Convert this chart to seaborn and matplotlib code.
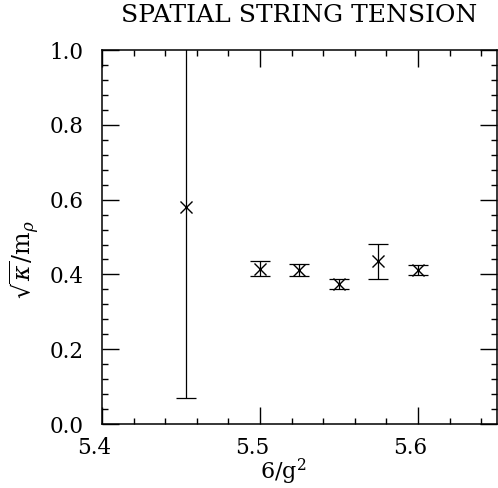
import matplotlib
matplotlib.use("Agg")
import matplotlib.pyplot as plt
import matplotlib.transforms as mtransforms
from matplotlib.ticker import MultipleLocator
import seaborn as sns
import pandas as pd

# Lattice coupling and spatial string tension ratio
beta = [5.453, 5.500, 5.525, 5.550, 5.575, 5.600]
ratio = [0.58, 0.415, 0.412, 0.375, 0.435, 0.412]
err = [0.51, 0.020, 0.016, 0.014, 0.046, 0.013]

df = pd.DataFrame({"beta": beta, "ratio": ratio, "err": err})

sns.set_theme(style="white")
plt.rcParams["font.family"] = ["DejaVu Serif"]
plt.rcParams["mathtext.fontset"] = "dejavuserif"
plt.rcParams["text.color"] = "black"
plt.rcParams["axes.labelcolor"] = "black"

fig = plt.figure(figsize=(4.98, 4.88), dpi=100)
ax = fig.add_axes([0.2048, 0.1311, 0.793, 0.7664])

ax.errorbar(df["beta"], df["ratio"], yerr=df["err"], fmt="none",
            ecolor="black", elinewidth=0.9, capsize=7, capthick=0.9)
sns.scatterplot(data=df, x="beta", y="ratio", marker="x", s=75,
                color="black", linewidth=1.0, ax=ax, zorder=3)

ax.set_xlim(5.4, 5.65)
ax.set_ylim(0.0, 1.0)
ax.xaxis.set_major_locator(MultipleLocator(0.1))
ax.xaxis.set_minor_locator(MultipleLocator(0.02))
ax.yaxis.set_major_locator(MultipleLocator(0.2))
ax.yaxis.set_minor_locator(MultipleLocator(0.04))
ax.xaxis.set_major_formatter(plt.FuncFormatter(lambda v, p: f"{v:.1f}"))
ax.yaxis.set_major_formatter(plt.FuncFormatter(lambda v, p: f"{v:.1f}"))

ax.tick_params(which="both", direction="in", top=True, right=True,
               bottom=True, left=True, colors="black", labelsize=15.5)
ax.tick_params(which="major", length=12, width=1.0)
ax.tick_params(which="minor", length=4, width=1.0)
ax.tick_params(axis="x", which="both", pad=9)
ax.tick_params(axis="y", which="both", pad=13)

for s in ax.spines.values():
    s.set_color("black")
    s.set_linewidth(1.1)

ax.set_xlabel(r"6/g$^2$", fontsize=16)
ax.xaxis.set_label_coords(0.46, -0.088)
ax.set_ylabel(r"$\sqrt{\kappa}/\mathrm{m}_\rho$", fontsize=17)
ax.yaxis.set_label_coords(-0.155, 0.44)
ax.set_title("SPATIAL STRING TENSION", fontsize=18, pad=20, color="black")

# x tick labels sit slightly left of their ticks
fig.canvas.draw()
shift = mtransforms.ScaledTranslation(-8 / 100, 0, fig.dpi_scale_trans)
for tick in ax.xaxis.get_major_ticks():
    tick.label1.set_transform(tick.label1.get_transform() + shift)

fig.savefig("out.png", dpi=100)
